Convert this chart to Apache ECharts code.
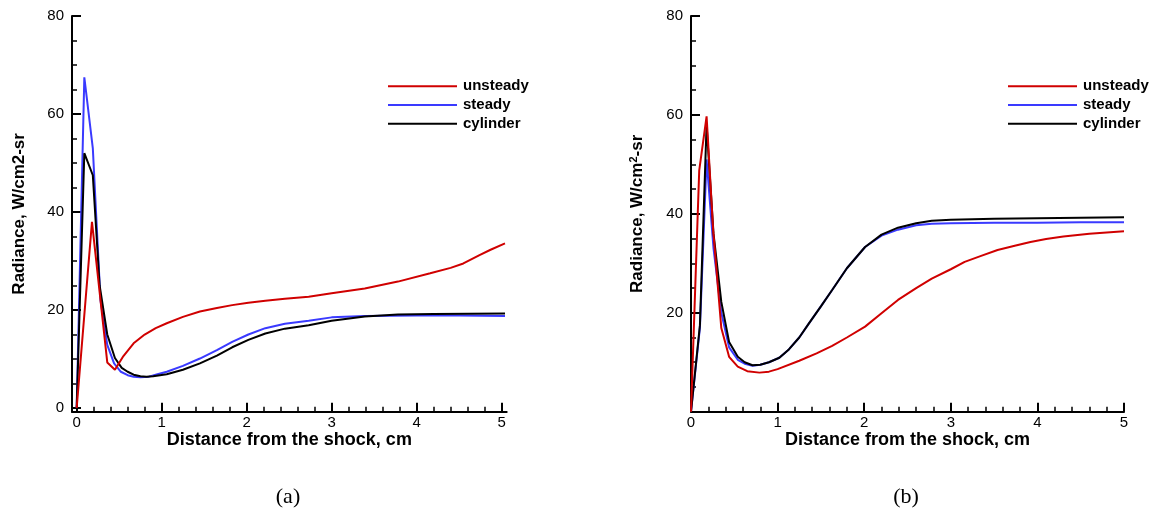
<!DOCTYPE html>
<html>
<head>
<meta charset="utf-8">
<script src="https://cdn.jsdelivr.net/npm/echarts@6/dist/echarts.min.js"></script>
<style>
html,body{margin:0;padding:0;background:#fff;}
#c{width:1154px;height:513px;}
</style>
</head>
<body>
<div id="c"></div>
<script>
// ---------- Data: panel (a) ----------
const xUnsteadyA = [0, 0.18, 0.36, 0.45, 0.55, 0.67, 0.8, 0.93, 1.06, 1.25, 1.45, 1.65, 1.83, 2.02, 2.22, 2.45, 2.73, 3.0, 3.39, 3.78, 4.16, 4.4, 4.55, 4.74, 4.87, 5.04];
const yUnsteadyA = [0, 38, 9.3, 7.8, 10.6, 13.2, 15.0, 16.3, 17.3, 18.6, 19.7, 20.4, 21.0, 21.5, 21.9, 22.3, 22.7, 23.4, 24.4, 25.8, 27.5, 28.6, 29.5, 31.2, 32.3, 33.6];
const xSteadyA = [0, 0.09, 0.19, 0.28, 0.36, 0.44, 0.52, 0.6, 0.67, 0.75, 0.85, 0.95, 1.06, 1.25, 1.45, 1.65, 1.83, 2.02, 2.22, 2.45, 2.73, 3.0, 3.39, 4.0, 4.5, 5.04];
const ySteadyA = [0, 67.5, 53, 22, 12.9, 9.1, 7.4, 6.7, 6.4, 6.3, 6.4, 6.9, 7.4, 8.6, 10.1, 11.8, 13.5, 15.0, 16.3, 17.2, 17.8, 18.5, 18.8, 18.9, 18.9, 18.8];
const xCylinderA = [0, 0.09, 0.19, 0.27, 0.36, 0.45, 0.53, 0.6, 0.67, 0.75, 0.82, 0.9, 1.06, 1.25, 1.45, 1.65, 1.83, 2.02, 2.22, 2.45, 2.73, 3.0, 3.39, 3.78, 4.2, 5.04];
const yCylinderA = [0, 52, 47.5, 25, 15, 10.2, 8.2, 7.4, 6.8, 6.5, 6.4, 6.5, 6.9, 7.8, 9.1, 10.7, 12.4, 13.9, 15.2, 16.2, 16.9, 17.8, 18.7, 19.1, 19.2, 19.3];

// ---------- Data: panel (b) ----------
const xUnsteadyB = [0, 0.095, 0.18, 0.256, 0.35, 0.44, 0.54, 0.65, 0.79, 0.9, 1.0, 1.25, 1.45, 1.63, 1.8, 2.01, 2.2, 2.39, 2.6, 2.78, 3.0, 3.16, 3.35, 3.54, 3.75, 3.92, 4.1, 4.3, 4.6, 5.0];
const yUnsteadyB = [0, 48.8, 59.7, 36.7, 16.9, 11.1, 9.1, 8.2, 7.9, 8.1, 8.6, 10.3, 11.8, 13.3, 15.0, 17.2, 19.9, 22.6, 25.0, 26.9, 28.8, 30.3, 31.5, 32.7, 33.6, 34.3, 34.9, 35.4, 36.0, 36.5];
const xSteadyB = [0, 0.103, 0.18, 0.26, 0.35, 0.44, 0.54, 0.62, 0.71, 0.8, 0.9, 1.02, 1.13, 1.25, 1.36, 1.5, 1.63, 1.8, 2.01, 2.2, 2.39, 2.6, 2.78, 3.0, 3.5, 4.0, 4.5, 5.0];
const ySteadyB = [0, 17, 51, 33, 20, 13, 10.5, 9.7, 9.3, 9.5, 10.0, 10.9, 12.6, 15.0, 17.8, 21.3, 24.6, 29, 33.3, 35.6, 36.8, 37.7, 38.0, 38.1, 38.2, 38.2, 38.3, 38.3];
const xCylinderB = [0, 0.103, 0.18, 0.26, 0.35, 0.44, 0.54, 0.62, 0.71, 0.8, 0.9, 1.02, 1.13, 1.25, 1.36, 1.5, 1.63, 1.8, 2.01, 2.2, 2.39, 2.6, 2.78, 3.0, 3.5, 4.0, 4.5, 5.0];
const yCylinderB = [0, 17.5, 58, 36, 22.2, 14.1, 11.1, 10.0, 9.4, 9.5, 10.0, 10.9, 12.6, 15.0, 17.8, 21.3, 24.6, 29, 33.3, 35.8, 37.2, 38.1, 38.6, 38.8, 39.0, 39.1, 39.2, 39.3];

// ---------- Tick labels ----------
const xTickLabels = [0, 1, 2, 3, 4, 5];
const yTickLabelsA = [0, 20, 40, 60, 80];
const yTickLabelsB = [20, 40, 60, 80];
const seriesNames = ['unsteady', 'steady', 'cylinder'];
const xTitle = 'Distance from the shock, cm';
const yTitleA = 'Radiance, W/cm2-sr';
const yTitleB = 'Radiance, W/cm{sup|2}-sr';
const captions = ['(a)', '(b)'];

function zip(xs, ys) { return xs.map((x, i) => [x, ys[i]]); }
function steps(a, b, s) { const out = []; for (let v = a; v <= b + 1e-9; v += s) out.push(+v.toFixed(4)); return out; }

const xMinor = steps(0, 5, 0.2);
const yMinor = steps(0, 80, 5);

const FONT = 'Liberation Sans, Arial, Helvetica, sans-serif';
const colors = { unsteady: '#d00000', steady: '#3a3aff', cylinder: '#000000' };

function xAxes(gridIndex, min, max) {
  return [
    { type: 'value', gridIndex, min, max, position: 'bottom', offset: 0,
      axisLine: { show: true, onZero: false, lineStyle: { color: '#000', width: 2 } },
      axisTick: { show: true, inside: true, length: 9, customValues: xTickLabels, lineStyle: { color: '#000', width: 2 } },
      axisLabel: { show: true, customValues: xTickLabels, margin: 4, color: '#000', fontSize: 15, fontFamily: FONT },
      splitLine: { show: false },
      name: xTitle, nameLocation: 'middle', nameGap: 19, nameMoveOverlap: false,
      nameTextStyle: { fontSize: 18, fontWeight: 'bold', color: '#000', fontFamily: FONT } },
    { type: 'value', gridIndex, min, max, position: 'bottom', offset: 0,
      axisLine: { show: false, onZero: false },
      axisTick: { show: true, inside: true, length: 5, customValues: xMinor, lineStyle: { color: '#000', width: 1.5 } },
      axisLabel: { show: false }, splitLine: { show: false } }
  ];
}
function yAxes(gridIndex, min, max, labels, title, rich) {
  const nts = { fontSize: 17, fontWeight: 'bold', color: '#000', fontFamily: FONT };
  if (rich) nts.rich = { sup: { fontSize: 11, fontWeight: 'bold', color: '#000', fontFamily: FONT, padding: [0, 0, 8, 0] } };
  return [
    { type: 'value', gridIndex, min, max, position: 'left', offset: 0,
      axisLine: { show: true, onZero: false, lineStyle: { color: '#000', width: 2 } },
      axisTick: { show: true, inside: true, length: 9, customValues: labels, lineStyle: { color: '#000', width: 2 } },
      axisLabel: { show: true, customValues: labels, margin: 8, color: '#000', fontSize: 15, fontFamily: FONT },
      splitLine: { show: false },
      name: title, nameLocation: 'middle', nameGap: 44, nameRotate: 90, nameMoveOverlap: false, nameTextStyle: nts },
    { type: 'value', gridIndex, min, max, position: 'left', offset: 0,
      axisLine: { show: false, onZero: false },
      axisTick: { show: true, inside: true, length: 5, customValues: yMinor, lineStyle: { color: '#000', width: 1.5 } },
      axisLabel: { show: false }, splitLine: { show: false } }
  ];
}

function line(name, xs, ys, xi, yi) {
  return { type: 'line', name, xAxisIndex: xi, yAxisIndex: yi, data: zip(xs, ys),
    showSymbol: false, symbol: 'none', smooth: false, clip: false,
    lineStyle: { color: colors[name], width: 2 }, itemStyle: { color: colors[name] } };
}

function legend(left) {
  return { orient: 'vertical', left, top: 72, data: seriesNames, icon: 'rect',
    itemWidth: 69, itemHeight: 2, itemGap: 0, selectedMode: false,
    textStyle: { fontSize: 15, fontWeight: 'bold', color: '#000', fontFamily: FONT, lineHeight: 18.7, padding: [0, 0, 0, 1] } };
}

const chart = echarts.init(document.getElementById('c'), null, { renderer: 'canvas' });
chart.setOption({
  animation: false,
  backgroundColor: '#fff',
  grid: [
    { left: 72, top: 16, width: 434.7, height: 395.7 },
    { left: 691, top: 16, width: 433, height: 395.7 }
  ],
  xAxis: [...xAxes(0, -0.055, 5.06), ...xAxes(1, 0, 5)],
  yAxis: [...yAxes(0, -0.75, 80, yTickLabelsA, yTitleA, false), ...yAxes(1, 0, 80, yTickLabelsB, yTitleB, true)],
  legend: [legend(383), legend(1003)],
  series: [
    line('steady', xSteadyA, ySteadyA, 0, 0),
    line('cylinder', xCylinderA, yCylinderA, 0, 0),
    line('unsteady', xUnsteadyA, yUnsteadyA, 0, 0),
    line('steady', xSteadyB, ySteadyB, 2, 2),
    line('cylinder', xCylinderB, yCylinderB, 2, 2),
    line('unsteady', xUnsteadyB, yUnsteadyB, 2, 2)
  ],
  graphic: [
    { type: 'text', x: 288, y: 497, style: { text: captions[0], font: '22px "Liberation Serif", "DejaVu Serif", serif', fill: '#000', textAlign: 'center', textVerticalAlign: 'middle' } },
    { type: 'text', x: 906, y: 497, style: { text: captions[1], font: '22px "Liberation Serif", "DejaVu Serif", serif', fill: '#000', textAlign: 'center', textVerticalAlign: 'middle' } }
  ]
});
</script>
</body>
</html>
